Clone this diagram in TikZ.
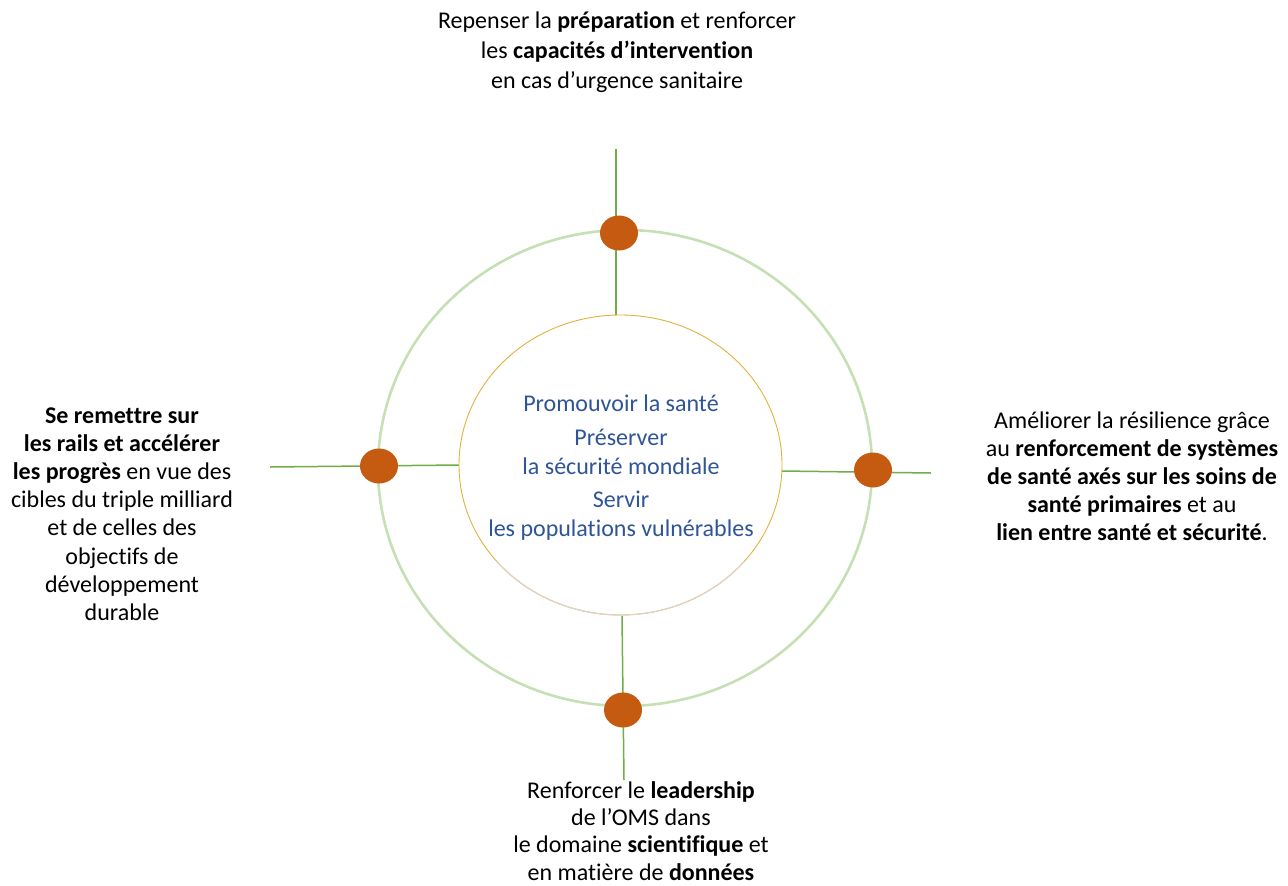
\documentclass[tikz,border=0pt]{standalone}
\usepackage{fontspec}
\setmainfont{Carlito}[Ligatures=NoCommon]
\usetikzlibrary{shapes.geometric}
\definecolor{ringgreen}{RGB}{197,224,180}
\definecolor{linegreen}{RGB}{112,173,71}
\definecolor{dotorange}{RGB}{197,90,17}
\definecolor{innergold}{RGB}{226,178,60}
\definecolor{innerpale}{RGB}{222,210,205}
\definecolor{goalblue}{RGB}{47,85,151}
\tikzset{
  x=1pt, y=-1pt,
  ring/.style={draw=ringgreen, line width=2.6pt},
  innerring/.style={draw=innergold, line width=0.9pt, fill=white},
  innerlow/.style={draw=innerpale, line width=1.1pt},
  conn/.style={draw=linegreen, line width=1.5pt},
  dot/.style={ellipse, fill=dotorange, minimum width=38pt, minimum height=35pt, inner sep=0pt},
  txt/.style={align=center, text=black, inner sep=0pt},
}
\begin{document}
\begin{tikzpicture}
\useasboundingbox (0,0) rectangle (1288,886);
% outer ring
\draw[ring] (625,468) ellipse [x radius=247, y radius=238];
% coordinates for connector ends
\coordinate (tA) at (616,149);
\coordinate (tB) at (616,315);
\coordinate (lA) at (270,467);
\coordinate (lB) at (459,465);
\coordinate (rA) at (782,471);
\coordinate (rB) at (931,473);
\coordinate (bA) at (622,616);
\coordinate (bB) at (624,780);
\draw[conn] (tA) -- (tB);
\draw[conn] (lA) -- (lB);
\draw[conn] (rA) -- (rB);
\draw[conn] (bA) -- (bB);
% inner circle: gold outline, pale lower part
\draw[innerring] (620.5,465) ellipse [x radius=161.5, y radius=150];
\draw[innerlow] (620.5,465) ++(123.7,96.4) arc [start angle=40, end angle=140, x radius=161.5, y radius=150];
% dots
\node[dot] (dt) at (619,233) {};
\node[dot] (dl) at (379,466) {};
\node[dot] (dr) at (873,470) {};
\node[dot] (db) at (623,710) {};
% centre text
\node[txt, text=goalblue, font=\fontsize{24}{29}\selectfont] (c1) at (621,403) {Promouvoir la santé};
\node[txt, text=goalblue, font=\fontsize{24}{29}\selectfont] (c2) at (621,452) {Préserver\\la sécurité mondiale};
\node[txt, text=goalblue, font=\fontsize{24}{29}\selectfont] (c3) at (621,516) {Servir\\les populations vulnérables};
% outer texts
\node[txt, font=\fontsize{24}{30}\selectfont] (ttop) at (617,52)
  {Repenser la \textbf{préparation} et renforcer\\les \textbf{capacités d’intervention}\\en cas d’urgence sanitaire};
\node[txt, font=\fontsize{24}{28.2}\selectfont] (tleft) at (122,514)
  {\textbf{Se remettre sur}\\\textbf{les rails et accélérer}\\\textbf{les progrès} en vue des\\cibles du triple milliard\\et de celles des\\objectifs de\\développement\\durable};
\node[txt, font=\fontsize{24}{28}\selectfont] (tright) at (1132,476)
  {Améliorer la résilience grâce\\au \textbf{renforcement de systèmes}\\\textbf{de santé axés sur les soins de}\\\textbf{santé primaires} et au\\\textbf{lien entre santé et sécurité}.};
\node[txt, font=\fontsize{24}{27.3}\selectfont] (tbot) at (641,831)
  {Renforcer le \textbf{leadership}\\de l’OMS dans\\le domaine \textbf{scientifique} et\\en matière de \textbf{données}};
\end{tikzpicture}
\end{document}
